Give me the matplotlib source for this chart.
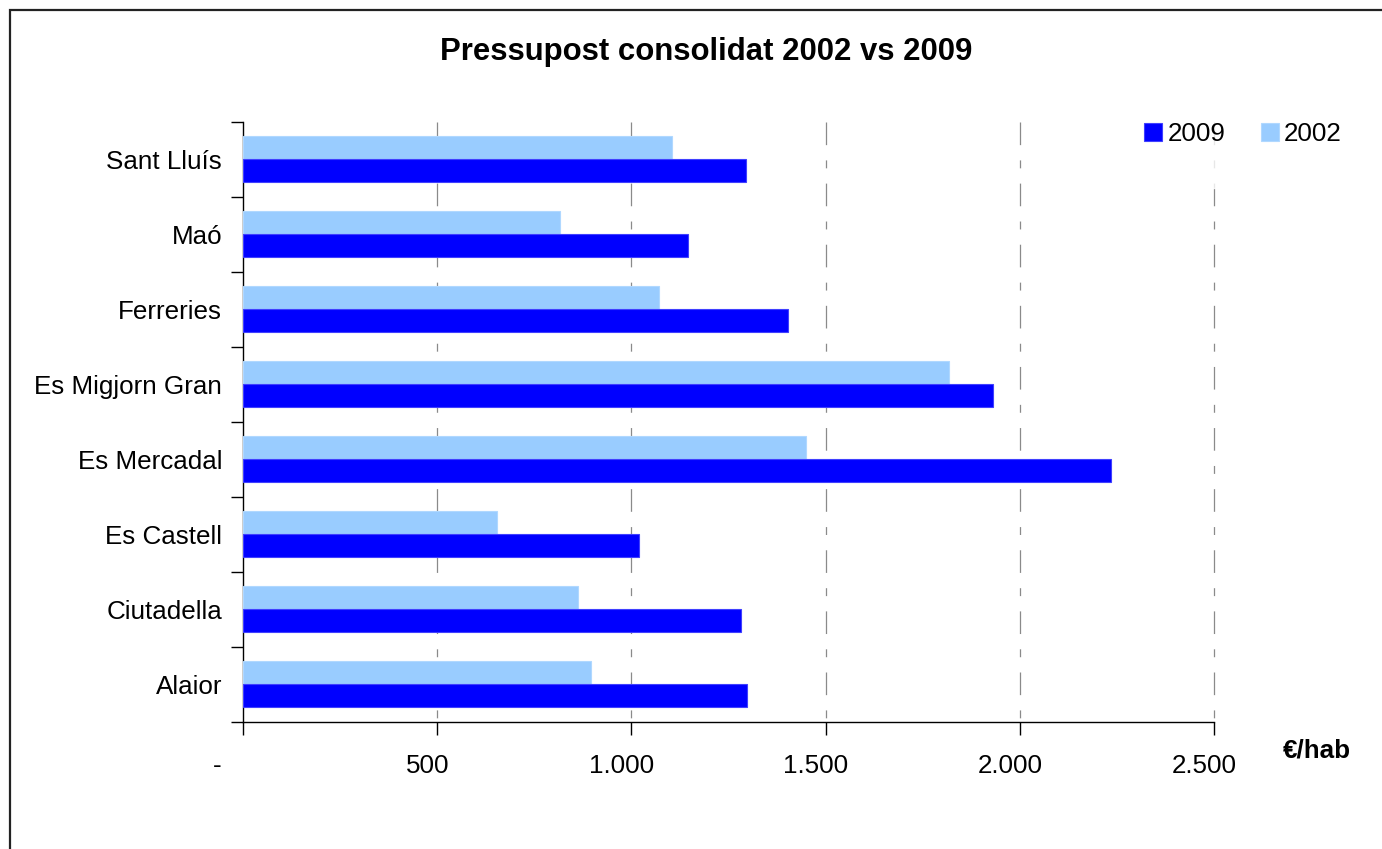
import matplotlib
matplotlib.use("Agg")
import matplotlib.pyplot as plt
from matplotlib.patches import Rectangle
from matplotlib.transforms import ScaledTranslation

plt.rcParams['font.family'] = ['Liberation Sans', 'DejaVu Sans']
plt.rcParams['lines.scale_dashes'] = False

municipis = ['Alaior', 'Ciutadella', 'Es Castell', 'Es Mercadal',
             'Es Migjorn Gran', 'Ferreries', 'Maó', 'Sant Lluís']
valors_2002 = [896, 862, 654, 1450, 1818, 1072, 817, 1105]
valors_2009 = [1297, 1281, 1020, 2234, 1930, 1404, 1147, 1296]
xticks = [0, 500, 1000, 1500, 2000, 2500]
xtick_labels = ['-', '500', '1.000', '1.500', '2.000', '2.500']

W, H = 1382, 849
DPI = 100
FS = 18.7

fig = plt.figure(figsize=(W / DPI, H / DPI), dpi=DPI)
ax = fig.add_axes([243 / W, (H - 722) / H, 971 / W, 600.3 / H])

# frame round the figure (cut off at right and bottom, as in the original)
fig.patches.append(Rectangle((10 / W, -0.2), 1.5, (H - 10) / H + 0.2,
                             transform=fig.transFigure, fill=False,
                             edgecolor='#222222', linewidth=1.6))

pos = list(range(len(municipis)))
h = 0.3065
ax.barh([p + h / 2 for p in pos], valors_2002, height=h, color='#99CCFF',
        edgecolor='#B0D8FF', linewidth=0.8, zorder=3, label='2002')
ax.barh([p - h / 2 for p in pos], valors_2009, height=h, color='#0000FF',
        edgecolor='#4040FF', linewidth=0.8, zorder=3, label='2009')

# long dash / short dash grid lines, drawn from the top down
for xv in xticks[1:]:
    ax.axvline(xv, ymin=1, ymax=0, color='#8a8a8a', linewidth=0.9,
               dashes=(16.3, 11, 5.7, 11), zorder=1, clip_on=False)

ax.set_xlim(0, 2500)
ax.set_ylim(-0.5, len(municipis) - 0.5)

ax.set_yticks(pos)
ax.set_yticklabels(municipis, fontsize=FS)
ax.set_yticks([p - 0.5 for p in range(len(municipis) + 1)], minor=True)
ax.tick_params(axis='y', which='major', length=0, pad=15)
ax.tick_params(axis='y', which='minor', length=9, width=1, direction='out')

ax.set_xticks(xticks)
ax.set_xticklabels(xtick_labels, fontsize=FS)
ax.tick_params(axis='x', length=9, width=1, direction='out', pad=14)
for lab, v in zip(ax.get_xticklabels(), xticks):
    dx = -26 if v == 0 else -10
    lab.set_transform(lab.get_transform() + ScaledTranslation(dx / DPI, 0, fig.dpi_scale_trans))

for s in ['top', 'right']:
    ax.spines[s].set_visible(False)
for s in ['left', 'bottom']:
    ax.spines[s].set_linewidth(1)
    ax.spines[s].set_color('black')

handles, labels = ax.get_legend_handles_labels()
leg = ax.legend(handles[::-1], labels[::-1], ncol=2, fontsize=FS,
                loc='center', bbox_to_anchor=(1243 / W, (H - 134) / H),
                bbox_transform=fig.transFigure, frameon=True,
                handlelength=0.7, handleheight=0.7, handletextpad=0.2,
                columnspacing=1.35, borderpad=1.6, fancybox=False)
leg.get_frame().set_facecolor('white')
leg.get_frame().set_edgecolor('white')
leg.set_zorder(5)

fig.text(706 / W, (H - 52) / H, 'Pressupost consolidat 2002 vs 2009',
         ha='center', va='center', fontsize=22.4, fontweight='bold')
fig.text(1317 / W, (H - 750) / H, '€/hab', ha='center', va='center',
         fontsize=FS, fontweight='bold')

fig.savefig('out.png', dpi=DPI, facecolor='white')
